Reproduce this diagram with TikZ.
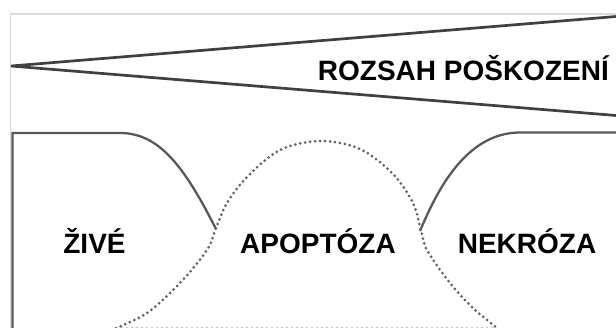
\documentclass[tikz,border=0pt]{standalone}
\usepackage{fontspec}
\setmainfont{Liberation Sans}
\begin{document}
\begin{tikzpicture}[x=1pt,y=-1pt,
  frame/.style={draw=black!14,line width=1.6pt},
  wedge/.style={draw=black!75,line width=2.7pt},
  boundary/.style={draw=black!65,line width=2.3pt},
  bell/.style={draw=black!62,line width=3pt,line cap=round,dash pattern=on 0pt off 5pt},
  label/.style={font=\fontsize{28}{28}\selectfont\bfseries,inner sep=0pt,anchor=base}]
\useasboundingbox (0,0) rectangle (616,327);
\fill[white] (0,0) rectangle (616,327);
\begin{scope}
\clip (0,0) rectangle (616,327);
% light outer frame
\draw[frame] (10.5,340) -- (10.5,14) -- (630,14);
% widening wedge: extent of damage
\coordinate (apex) at (11,66);
\coordinate (wtop) at (616,16.5);
\coordinate (wbot) at (616,115.5);
\draw[wedge] (wtop) -- (apex) -- (wbot);
% living-cell region and necrosis region boundaries
\coordinate (lbot) at (12.5,340);
\coordinate (lcorner) at (12.5,133);
\coordinate (lflat) at (120,133);
\coordinate (lend) at (216,229);
\coordinate (rend) at (420,231);
\coordinate (rflat) at (520,132.5);
\coordinate (redge) at (620,132.5);
\draw[boundary] (lbot) -- (lcorner) -- (lflat)
  .. controls (160,133) and (185,168) .. (lend);
\draw[boundary] (rend) .. controls (436,193) and (465,132.5) .. (rflat) -- (redge);
% apoptosis bell curve
\draw[bell] plot[smooth,tension=0.55] coordinates {
  (116,328) (147,313) (180,283) (207,250) (216,228) (227,203) (247,177)
  (280,150) (320,141) (360,149) (393,174) (413,203) (421,230) (427,250)
  (450,283) (473,308) (497,328)};
\draw[bell,draw=black!25] (122,328.2) -- (495,328.2);
\end{scope}
% labels
\node[label,anchor=base east] (rozsah) at (609,80.7) {ROZSAH POŠKOZENÍ};
\node[label] (zive) at (94.5,253) {ŽIVÉ};
\node[label] (apoptoza) at (318,253) {APOPTÓZA};
\node[label] (nekroza) at (527,253) {NEKRÓZA};
\end{tikzpicture}
\end{document}
